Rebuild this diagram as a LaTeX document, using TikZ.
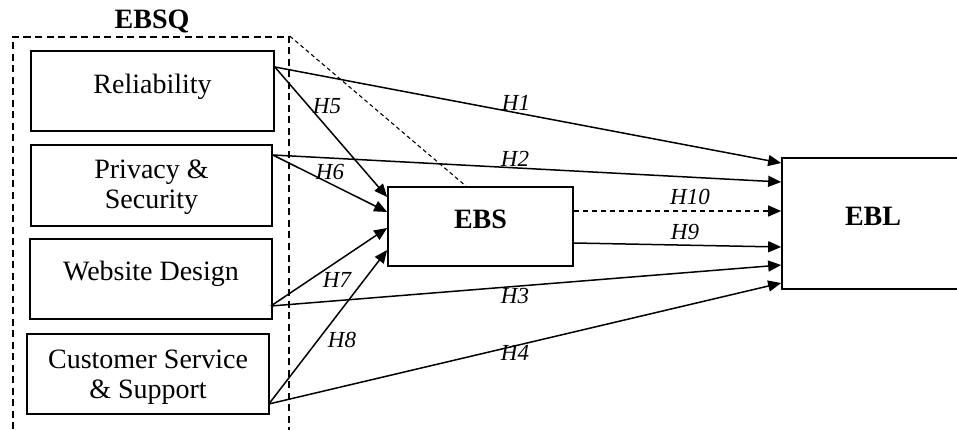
\documentclass[tikz,border=0pt]{standalone}
\usepackage{fontspec}
\setmainfont{Liberation Serif}
\usetikzlibrary{arrows.meta}
\begin{document}
\begin{tikzpicture}[x=1pt,y=-1pt,
  box/.style={draw, line width=1.7pt, inner sep=0pt},
  boxtext/.style={font=\fontsize{28}{30}\selectfont, align=center, inner sep=0pt},
  head/.style={font=\fontsize{28}{30}\selectfont\bfseries, inner sep=0pt},
  hyp/.style={font=\fontsize{23}{25}\selectfont\itshape, inner sep=0pt},
  link/.style={line width=1.5pt, -{Triangle[length=13pt,width=11pt]}},
  dlink/.style={link, dash pattern=on 5pt off 4pt},
  group/.style={draw, line width=1.7pt, dash pattern=on 7pt off 4.5pt, inner sep=0pt}]
  \useasboundingbox (0,0) rectangle (957,430);
  \clip (0,0) rectangle (957,430);

  % EBSQ group frame (runs past the lower edge)
  \node[group, minimum width=276pt, minimum height=420pt] (ebsq) at (151,247) {};
  \node[head] (ebsqlabel) at (152,22) {EBSQ};

  % dimension boxes
  \node[box, minimum width=243pt, minimum height=80pt] (rel)  at (152.5,91) {};
  \node[box, minimum width=241pt, minimum height=81pt] (priv) at (151.5,185.5) {};
  \node[box, minimum width=242pt, minimum height=80pt] (web)  at (151,279) {};
  \node[box, minimum width=242pt, minimum height=80pt] (cust) at (148,374) {};
  \node[boxtext] (reltext)  at ([yshift=4pt]rel.center)   {Reliability};
  \node[boxtext] (privtext) at ([yshift=-2pt]priv.center) {Privacy \&\\Security};
  \node[boxtext] (webtext)  at ([yshift=5pt]web.center)   {Website Design};
  \node[boxtext] (custtext) at ([yshift=-3pt]cust.center) {Customer Service\\\& Support};

  % mediator and outcome
  \node[box, minimum width=185pt, minimum height=79pt] (ebs) at (480.5,226.5) {};
  \node[head] (ebstext) at ([yshift=7.5pt]ebs.center) {EBS};
  \node[box, minimum width=182pt, minimum height=131pt] (ebl) at (873,223.5) {};
  \node[head] (ebltext) at ([yshift=7pt]ebl.center) {EBL};

  % group to mediator (thin dashed)
  \draw[line width=1.1pt, dash pattern=on 4pt off 3pt] (ebsq.north east) -- ([xshift=-14.5pt]ebs.north);

  % direct effects on EBL
  \draw[link] ([yshift=24pt]rel.east) -- ([yshift=60.5pt]ebl.west);
  \draw[link] ([yshift=30.5pt]priv.east) -- ([yshift=41.5pt]ebl.west);
  \draw[link] ([xshift=-2pt,yshift=-27pt]web.east) -- ([yshift=-41.5pt]ebl.west);
  \draw[link] ([xshift=-1pt,yshift=-30pt]cust.east) -- ([yshift=-59.5pt]ebl.west);

  % effects on EBS
  \draw[link] ([yshift=24pt]rel.east) -- ([yshift=29.5pt]ebs.west);
  \draw[link] ([yshift=30.5pt]priv.east) -- ([yshift=14.5pt]ebs.west);
  \draw[link] ([xshift=-2pt,yshift=-27pt]web.east) -- ([yshift=-1.5pt]ebs.west);
  \draw[link] ([xshift=-1pt,yshift=-30pt]cust.east) -- ([yshift=-23.5pt]ebs.west);

  % EBS to EBL
  \draw[dlink] ([yshift=15.5pt]ebs.east) -- ([yshift=12.5pt]ebl.west);
  \draw[link] ([yshift=-16.5pt]ebs.east) -- ([yshift=-23.5pt]ebl.west);

  % hypothesis labels
  \node[hyp] (h1)  at (516,103) {H1};
  \node[hyp] (h2)  at (515,159) {H2};
  \node[hyp] (h3)  at (515,296) {H3};
  \node[hyp] (h4)  at (515,353) {H4};
  \node[hyp] (h5)  at (327,106) {H5};
  \node[hyp] (h6)  at (330,172) {H6};
  \node[hyp] (h7)  at (337,280) {H7};
  \node[hyp] (h8)  at (342,340) {H8};
  \node[hyp] (h9)  at (685,232) {H9};
  \node[hyp] (h10) at (690,197) {H10};
\end{tikzpicture}
\end{document}
